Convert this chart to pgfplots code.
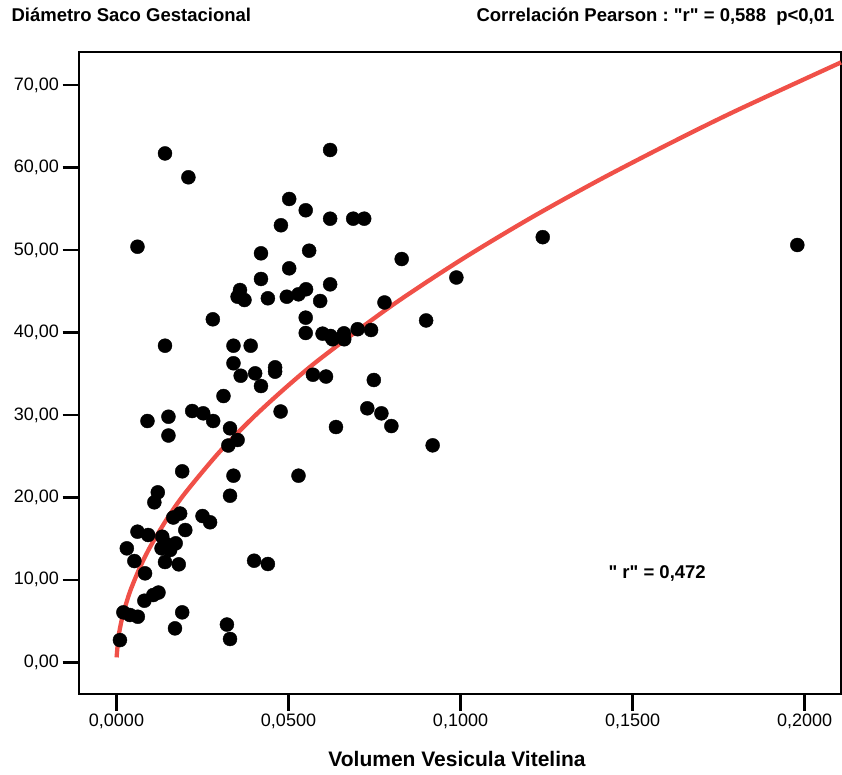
\documentclass[border=0pt]{standalone}
\usepackage{fontspec}
\setmainfont{Liberation Sans}
% same face without the TeX quote mapping, so " stays a straight quote
\setmonofont{Liberation Sans}
\usepackage{pgfplots}
\usepackage{pgfplotstable}
\pgfplotsset{compat=1.18}

\definecolor{fitred}{RGB}{240,80,72}

% Volumen vesicula vitelina (x) vs diametro saco gestacional (y)
\pgfplotstableread{
x y
0.0141 61.70
0.0209 58.81
0.0621 62.12
0.0502 56.18
0.0550 54.81
0.0478 52.99
0.0621 53.79
0.0688 53.79
0.0720 53.79
0.0061 50.39
0.0420 49.59
0.0560 49.91
0.0502 47.77
0.0420 46.48
0.0621 45.83
0.0359 45.14
0.0352 44.33
0.0372 43.93
0.0440 44.14
0.0495 44.33
0.0529 44.62
0.0551 45.23
0.0592 43.81
0.0779 43.63
0.0829 48.90
0.0988 46.66
0.1239 51.55
0.1979 50.60
0.0280 41.59
0.0550 41.79
0.0900 41.45
0.0141 38.39
0.0340 38.39
0.0390 38.39
0.0550 39.93
0.0599 39.85
0.0622 39.57
0.0628 39.17
0.0661 39.89
0.0662 39.17
0.0701 40.39
0.0740 40.29
0.0340 36.26
0.0361 34.75
0.0403 35.04
0.0461 35.77
0.0461 35.24
0.0420 33.50
0.0571 34.87
0.0609 34.65
0.0748 34.23
0.0311 32.29
0.0090 29.26
0.0151 29.78
0.0151 27.50
0.0220 30.47
0.0252 30.19
0.0281 29.26
0.0330 28.37
0.0325 26.29
0.0352 26.96
0.0477 30.41
0.0638 28.53
0.0729 30.80
0.0770 30.19
0.0799 28.65
0.0919 26.31
0.0529 22.63
0.0191 23.16
0.0340 22.63
0.0330 20.20
0.0120 20.61
0.0110 19.40
0.0185 18.04
0.0165 17.56
0.0250 17.74
0.0272 16.98
0.0061 15.84
0.0092 15.44
0.0133 15.23
0.0200 16.04
0.0141 14.43
0.0172 14.43
0.0131 13.82
0.0156 13.62
0.0030 13.82
0.0052 12.28
0.0141 12.16
0.0181 11.88
0.0083 10.79
0.0122 8.46
0.0107 8.16
0.0081 7.47
0.0020 6.06
0.0039 5.74
0.0062 5.53
0.0191 6.06
0.0170 4.12
0.0321 4.58
0.0330 2.83
0.0010 2.70
0.0400 12.32
0.0440 11.92
}\scatterdata

% fitted curve
\pgfplotstableread{
x y
0.00003 0.60
0.0005 2.83
0.001 4.11
0.002 5.97
0.004 8.66
0.007 11.68
0.010 14.16
0.015 17.60
0.020 20.55
0.030 25.54
0.040 29.80
0.050 33.60
0.060 37.06
0.080 43.25
0.100 48.76
0.120 53.78
0.140 58.41
0.160 62.74
0.180 66.86
0.2106 72.74
}\fitdata

\begin{document}
\begin{tikzpicture}
\useasboundingbox (-79pt,-80pt) rectangle (763pt,694pt);
\begin{axis}[
  at={(0pt,0pt)}, anchor=south west,
  scale only axis,
  width=762pt, height=642pt,
  xmin=-0.0109, xmax=0.2106,
  ymin=-3.84, ymax=74.0,
  axis line style={line width=1.3pt, black},
  xtick={0,0.05,0.1,0.15,0.2},
  xticklabels={{0,0000},{0,0500},{0,1000},{0,1500},{0,2000}},
  ytick={0,10,20,30,40,50,60,70},
  yticklabels={{0,00},{10,00},{20,00},{30,00},{40,00},{50,00},{60,00},{70,00}},
  xtick pos=bottom, ytick pos=left,
  tick align=outside,
  major tick length=16.5pt,
  major tick style={line width=2.5pt, black},
  ticklabel style={font=\fontsize{18}{21}\selectfont},
  clip=false,
]
\addplot[only marks, mark=*, mark size=7pt, mark options={fill=black, draw=black}]
  table[x=x, y=y] {\scatterdata};
\addplot[fitred, line width=4.3pt, smooth] table[x=x, y=y] {\fitdata};
\node[anchor=base west, font=\fontsize{18.5}{22}\selectfont\ttfamily\bfseries]
  at (axis cs:0.142,10.2) {" r" = 0,472};
\end{axis}
\node[anchor=base west, font=\fontsize{18.5}{22}\selectfont\bfseries]
  at (-71pt,672pt) {Diámetro Saco Gestacional};
\node[anchor=base east, font=\fontsize{18.5}{22}\selectfont\ttfamily\bfseries]
  at (759pt,672pt) {Correlación Pearson : "r" = 0,588\ \ p<0,01};
\node[anchor=base, font=\fontsize{21}{25}\selectfont\bfseries]
  at (378pt,-72.7pt) {Volumen Vesicula Vitelina};
\end{tikzpicture}
\end{document}
